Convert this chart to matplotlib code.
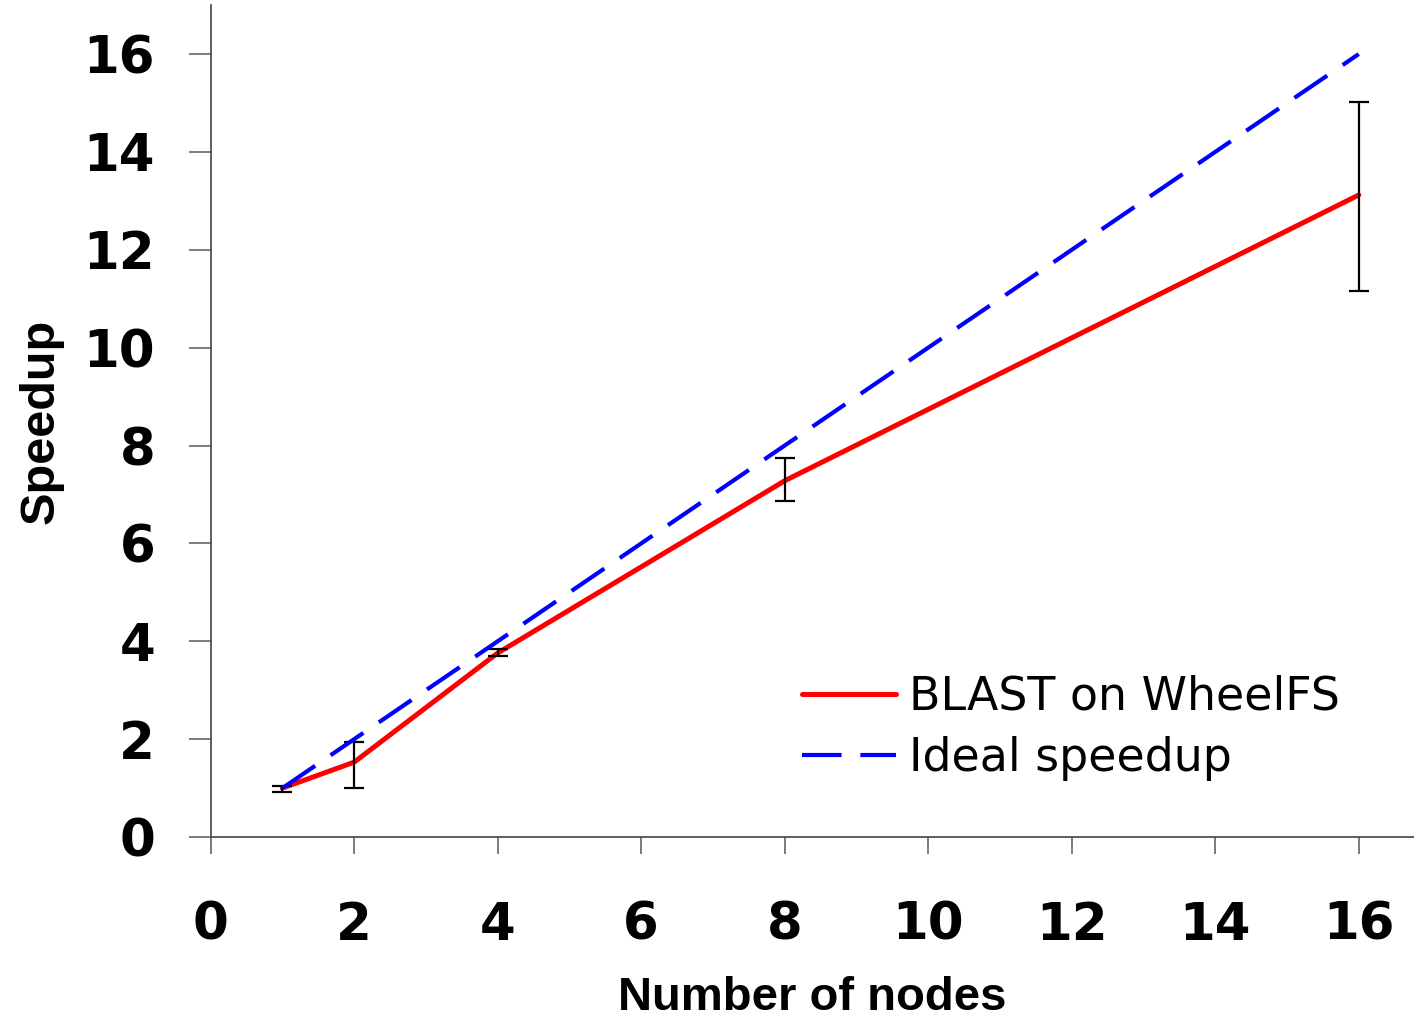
import matplotlib

matplotlib.use("Agg")
import matplotlib.pyplot as plt

nodes = [1, 2, 4, 8, 16]
blast_speedup = [1.0, 1.53, 3.76, 7.28, 13.12]
err_low = [0.92, 1.0, 3.69, 6.87, 11.15]
err_high = [1.04, 1.95, 3.84, 7.75, 15.03]
ideal_speedup = [1, 2, 4, 8, 16]

xticks = [0, 2, 4, 6, 8, 10, 12, 14, 16]
yticks = [0, 2, 4, 6, 8, 10, 12, 14, 16]

plt.rcParams["font.family"] = ["Liberation Sans", "DejaVu Sans"]
# the reference text is drawn wide, DejaVu matches its proportions better
wide = ["DejaVu Sans"]

fig = plt.figure(figsize=(14.14, 10.25), dpi=100)
ax = fig.add_axes([0.149, 0.1834, 0.851, 0.8116])

ax.plot(nodes, blast_speedup, color="#ff0000", lw=3.6, zorder=2,
        label="BLAST on WheelFS", solid_capstyle="round")
yerr = [
    [b - lo for b, lo in zip(blast_speedup, err_low)],
    [hi - b for b, hi in zip(blast_speedup, err_high)],
]
ax.errorbar(nodes, blast_speedup, yerr=yerr, fmt="none", ecolor="black",
            elinewidth=1.6, capsize=7, capthick=1.6, zorder=3)
ax.plot(nodes, ideal_speedup, color="#0000ff", lw=3.0, zorder=4,
        dashes=(9.5, 4.5), label="Ideal speedup")

ax.set_xlim(0, 16.77)
ax.set_ylim(0, 17)
ax.set_xticks(xticks)
ax.set_yticks(yticks)
ax.set_xticklabels([str(t) for t in xticks], fontsize=37, fontweight="bold",
                   family=wide)
ax.set_yticklabels([str(t) for t in yticks], fontsize=37, fontweight="bold",
                   family=wide)

for side in ("top", "right"):
    ax.spines[side].set_visible(False)
for side in ("left", "bottom"):
    ax.spines[side].set_color("#444444")
    ax.spines[side].set_linewidth(1.2)

ax.tick_params(axis="y", direction="out", length=16, width=1.2,
               color="#666666", pad=24)
ax.tick_params(axis="x", direction="out", length=12, width=1.2,
               color="#666666", pad=34)

ax.set_xlabel("Number of nodes", fontsize=34, fontweight="bold", labelpad=18)
ax.set_ylabel("Speedup", fontsize=35, fontweight="bold", labelpad=14)

fig.legend(loc="center left", bbox_to_anchor=(0.567, 0.29),
           frameon=False, prop={"family": wide, "size": 33},
           handlelength=2.05, handletextpad=0.3, labelspacing=0.35,
           borderpad=0, borderaxespad=0)

fig.savefig("out.png", dpi=100)
